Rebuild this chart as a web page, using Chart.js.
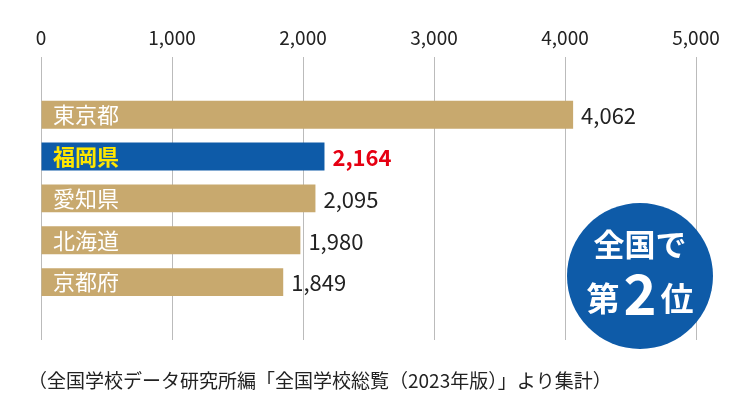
<!DOCTYPE html>
<html><head><meta charset="utf-8">
<script src="https://cdn.jsdelivr.net/npm/chart.js@4"></script>
<style>body{margin:0;background:#fff}</style>
</head><body>
<canvas id="c" width="749" height="418"></canvas>
<script>
const prefectures = ['東京都', '福岡県', '愛知県', '北海道', '京都府'];
const students = [4062, 2164, 2095, 1980, 1849];
const xTicks = [0, 1000, 2000, 3000, 4000, 5000];
const highlight = 1;
const FONT = '"Noto Sans CJK JP", "Noto Sans", sans-serif';

const tan = '#C8A96E', blue = '#0E5BA8';

const labelPlugin = {
  id: 'labels',
  afterDatasetsDraw(chart) {
    const ctx = chart.ctx;
    const meta = chart.getDatasetMeta(0);
    ctx.save();
    ctx.textBaseline = 'middle';
    meta.data.forEach((bar, i) => {
      const hi = i === highlight;
      ctx.font = (hi ? 'bold ' : '') + '22px ' + FONT;
      ctx.fillStyle = hi ? '#FFE600' : '#fff';
      ctx.textAlign = 'left';
      ctx.fillText(prefectures[i], chart.chartArea.left + 12, bar.y);
      ctx.fillStyle = hi ? '#E60012' : '#222';
      ctx.fillText(students[i].toLocaleString('en-US'), bar.x + 8, bar.y + 1);
    });
    // badge
    ctx.beginPath();
    ctx.arc(640, 276, 73, 0, Math.PI * 2);
    ctx.fillStyle = blue;
    ctx.fill();
    ctx.fillStyle = '#fff';
    ctx.textAlign = 'center';
    ctx.font = 'bold 31px ' + FONT;
    ctx.fillText('全国で', 640, 244);
    ctx.font = 'bold 33px ' + FONT;
    ctx.fillText('第', 603, 298);
    ctx.fillText('位', 677, 298);
    ctx.font = 'bold 56px ' + FONT;
    ctx.fillText('2', 640, 294);
    // caption
    ctx.fillStyle = '#222';
    ctx.font = '19px ' + FONT;
    ctx.textAlign = 'left';
    ctx.fillText('（全国学校データ研究所編「全国学校総覧（2023年版）」より集計）', 28, 381);
    ctx.restore();
  }
};

new Chart(document.getElementById('c'), {
  type: 'bar',
  data: {
    datasets: [{
      data: students.map((v, i) => ({ x: v, y: i })),
      backgroundColor: students.map((v, i) => i === highlight ? blue : tan),
      barPercentage: 0.74,
      categoryPercentage: 1
    }]
  },
  options: {
    indexAxis: 'y',
    responsive: false,
    animation: false,
    layout: { padding: { left: 41, right: 53, top: 18, bottom: 78 } },
    plugins: { legend: { display: false }, tooltip: { enabled: false } },
    scales: {
      x: {
        type: 'linear', position: 'top', min: 0, max: 5000,
        afterBuildTicks: s => { s.ticks = xTicks.map(v => ({ value: v })); },
        grid: { color: '#bbb', drawTicks: false },
        border: { display: false },
        ticks: { padding: 8, color: '#222', font: { size: 19, family: FONT },
          callback: v => v.toLocaleString('en-US') }
      },
      y: {
        type: 'linear', reverse: true, min: -0.9, max: 4.9, display: false
      }
    }
  },
  plugins: [labelPlugin]
});
</script>
</body></html>
